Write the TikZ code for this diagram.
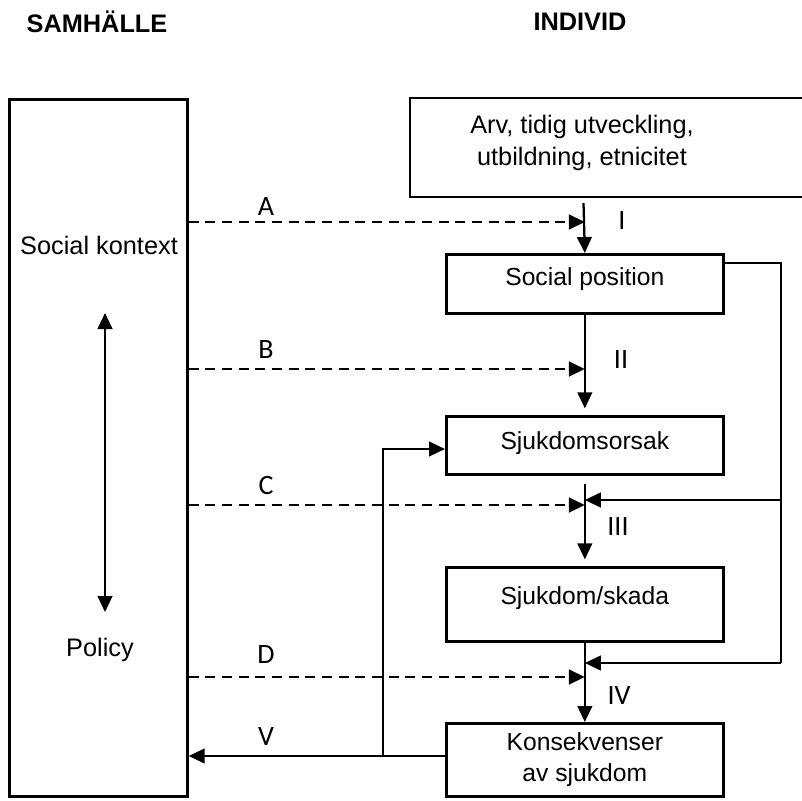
\documentclass[tikz,border=0pt]{standalone}
\usepackage{fontspec}
\setmainfont{Liberation Sans}
\newfontfamily\lblfont{Carlito}
\usetikzlibrary{arrows.meta}
\begin{document}
\begin{tikzpicture}[x=0.75pt,y=-0.75pt,
  box/.style={draw, line width=2pt, inner sep=0pt, anchor=north west, align=center,
    font=\fontsize{18.5}{23}\selectfont},
  txt/.style={inner sep=0pt, align=center, font=\fontsize{19}{24}\selectfont},
  plain/.style={line width=1.7pt},
  conn/.style={line width=1.7pt, -{Triangle[length=12pt,width=11pt]}},
  dashconn/.style={conn, line width=2.1pt, dash pattern=on 7.5pt off 5pt},
  lbl/.style={inner sep=0pt, font=\lblfont\fontsize{21}{24}\selectfont},
  title/.style={inner sep=0pt, font=\bfseries\fontsize{19}{22}\selectfont}]
\useasboundingbox (0,0) rectangle (802,800);

% titles
\node[title] (tsam) at (97,22) {SAMHÄLLE};
\node[title] (tind) at (580,22) {INDIVID};

% society box
\node[box, minimum width=178*0.75pt, minimum height=697*0.75pt] (soc) at (8,98) {};
\node[txt] (skon) at (99,245) {Social kontext};
\node[txt] (pol) at (100,650) {Policy};
\coordinate (dt) at (105,313);
\coordinate (db) at (105,612);
\draw[plain, {Triangle[length=12pt,width=11pt]}-{Triangle[length=12pt,width=11pt]}] (dt) -- (db);

% top (open) box
\draw[line width=1.2pt] (802,98) -| (410,197) -- (802,197);
\node[txt] (arv) at (582,143) {Arv, tidig utveckling,\\utbildning, etnicitet};
\coordinate (arvb) at (583.5,203);

% individual boxes
\node[box, minimum width=277*0.75pt, minimum height=59*0.75pt, text depth=11pt] (sp) at (445,253) {Social position};
\node[box, minimum width=277*0.75pt, minimum height=58*0.75pt, text depth=7pt] (sj) at (445,415) {Sjukdomsorsak};
\node[box, minimum width=277*0.75pt, minimum height=74*0.75pt, text depth=13pt] (sk) at (445,566) {Sjukdom/skada};
\node[box, minimum width=277*0.75pt, minimum height=73*0.75pt] (ko) at (445,722) {Konsekvenser\\av sjukdom};

% main chain
\draw[conn] (arvb) -- (sp.north);
\draw[conn] (sp.south) -- ([yshift=5pt]sj.north);
\draw[conn] ([yshift=-6pt]sj.south) -- ([yshift=5pt]sk.north);
\draw[conn] (sk.south) -- (ko.north);

% dashed society arrows
\coordinate (ya) at (0,222);
\coordinate (yb) at (0,369);
\coordinate (yc) at (0,505);
\coordinate (yd) at (0,677);
\draw[dashconn] (soc.east |- ya) -- (sp.north |- ya);
\draw[dashconn] (soc.east |- yb) -- (sp.north |- yb);
\draw[dashconn] (soc.east |- yc) -- (sp.north |- yc);
\draw[dashconn] (soc.east |- yd) -- (sp.north |- yd);

% right loop from social position
\coordinate (rt) at (781,263);
\coordinate (rm) at (781,500);
\coordinate (rb) at (781,663);
\draw[plain] (sp.east |- rt) -- (rt) -- (rb);
\draw[conn] (rm) -- (sp.north |- rm);
\draw[conn] (rb) -- (sp.north |- rb);

% V feedback
\coordinate (yv) at (0,756);
\coordinate (ys) at (0,449);
\coordinate (xv) at (383,0);
\draw[conn] (ko.west |- yv) -- (soc.east |- yv);
\draw[conn] (xv |- yv) -- (xv |- ys) -- (sj.west |- ys);

% labels
\node[lbl] (la) at (266,207) {A};
\node[lbl] (lb) at (266,350) {B};
\node[lbl] (lc) at (266,485) {C};
\node[lbl] (ld) at (266,655) {D};
\node[lbl] (lv) at (266,737) {V};
\node[lbl] (l1) at (622,221) {I};
\node[lbl] (l2) at (621,360) {II};
\node[lbl] (l3) at (618,527) {III};
\node[lbl] (l4) at (619,696) {IV};
\end{tikzpicture}
\end{document}
